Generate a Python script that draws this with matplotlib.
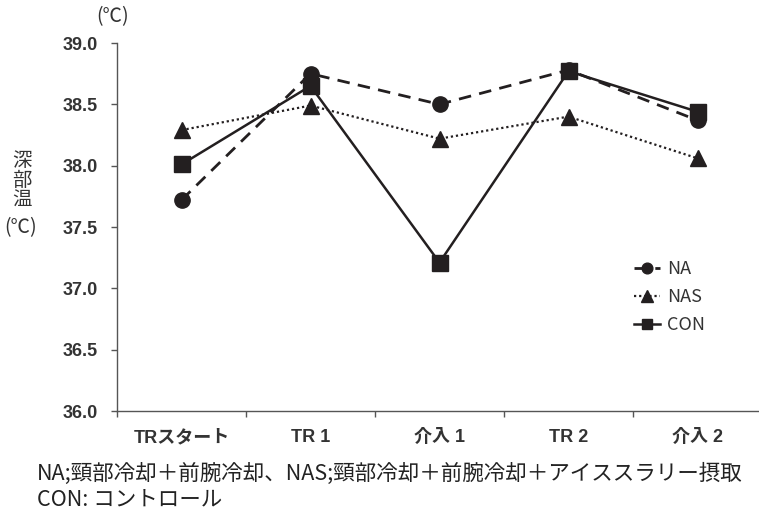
import matplotlib
matplotlib.use("Agg")
import matplotlib.pyplot as plt

categories = ["TRスタート", "TR 1", "介入 1", "TR 2", "介入 2"]
na = [37.72, 38.75, 38.50, 38.78, 38.37]
nas = [38.29, 38.49, 38.22, 38.40, 38.06]
con = [38.01, 38.65, 37.21, 38.77, 38.44]
yticks = [36.0, 36.5, 37.0, 37.5, 38.0, 38.5, 39.0]

plt.rcParams['font.family'] = ['Liberation Sans', 'Noto Sans CJK JP', 'DejaVu Sans']
ink = '#231f20'

fig = plt.figure(figsize=(7.59, 5.12), dpi=100)
ax = fig.add_axes([117/759, 1-411/512, 645/759, (411-43)/512])

x = list(range(len(categories)))
ax.plot(x, na, color=ink, lw=2.0, ls=(0, (4.5, 3)), marker='o', ms=11, label='NA')
ax.plot(x, nas, color=ink, lw=1.6, ls=(0, (1, 1.3)), marker='^', ms=12, label='NAS')
ax.plot(x, con, color=ink, lw=1.8, ls='-', marker='s', ms=11, label='CON')

ax.set_xlim(-0.5, 4.5)
ax.set_ylim(36.0, 39.0)
ax.set_yticks(yticks)
ax.set_yticklabels([f"{v:.1f}" for v in yticks], fontsize=13, fontweight='bold', color='#333333')
ax.set_xticks([-0.5, 0.5, 1.5, 2.5, 3.5])
ax.set_xticklabels([])
ax.set_xticks(x, minor=True)
ax.set_xticklabels(categories, minor=True, fontsize=13, fontweight='bold', color='#333333',
                   family=['Liberation Sans', 'Noto Sans CJK JP'])
ax.tick_params(axis='x', which='minor', length=0, pad=13)
ax.tick_params(axis='x', which='major', length=4, width=1, color='#555555', direction='out')
ax.tick_params(axis='y', length=4, width=1, color='#555555', direction='out', pad=10)
for s in ['top', 'right']:
    ax.spines[s].set_visible(False)
for s in ['left', 'bottom']:
    ax.spines[s].set_color('#555555')
    ax.spines[s].set_linewidth(1.0)

leg = ax.legend(loc='upper left', bbox_to_anchor=((627-117)/645, 1-(253-43)/368),
                frameon=False, markerscale=0.7, handlelength=1.4,
                handletextpad=0.4, labelspacing=0.55, borderaxespad=0,
                prop={'family': ['Noto Sans CJK JP'], 'size': 13})
for t in leg.get_texts():
    t.set_color('#333333')

lab_kw = dict(ha='center', va='center', fontsize=14, family=['Noto Sans CJK JP'], color='#333333')
fig.text(113/759, 1-17/512, "(℃)", **lab_kw)
for i, ch in enumerate("深部温"):
    fig.text(22/759, 1-(161+i*19.5)/512, ch, **lab_kw)
fig.text(21/759, 1-228/512, "(℃)", **lab_kw)

cap_kw = dict(ha='left', va='center', fontsize=15.5, family=['Noto Sans CJK JP'], color='#222222')
fig.text(37/759, 1-474/512, "NA;頸部冷却＋前腕冷却、NAS;頸部冷却＋前腕冷却＋アイススラリー摂取", **cap_kw)
fig.text(37/759, 1-499/512, "CON: コントロール", **cap_kw)

fig.savefig("out.png", dpi=100)
